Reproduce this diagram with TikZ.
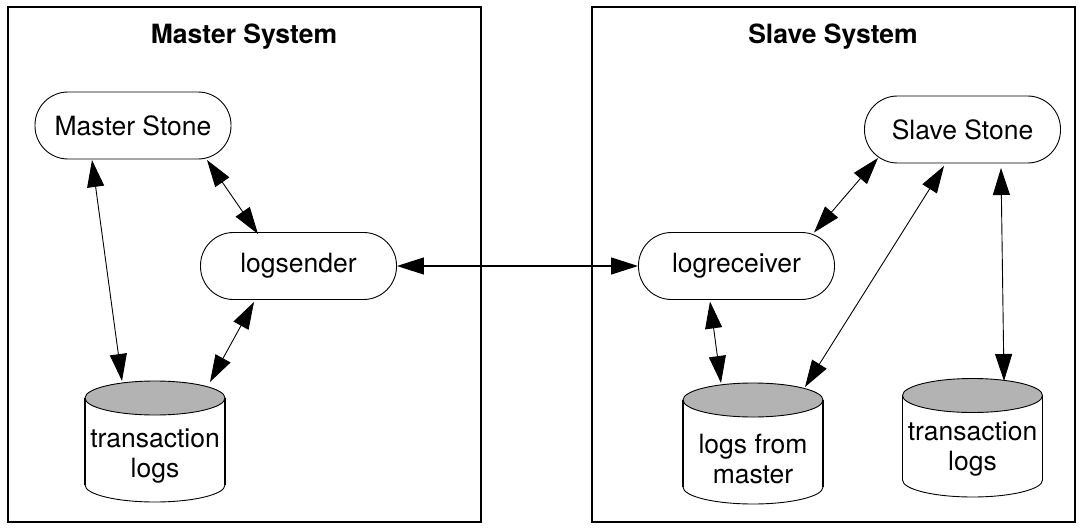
\documentclass[tikz,border=0pt]{standalone}
\usepackage{fontspec}
\setmainfont{TeX Gyre Heros}
\usetikzlibrary{arrows.meta,calc}
\definecolor{cylgray}{HTML}{B3B3B3}
\tikzset{
  sysbox/.style={draw, line width=1.6pt},
  systitle/.style={font=\fontsize{26.5}{30}\selectfont\bfseries},
  proc/.style={draw, line width=0.9pt, rounded corners=33pt, minimum width=196pt, minimum height=67pt, inner sep=0pt, font=\fontsize{26.5}{30}\selectfont},
  dbtext/.style={align=center, inner sep=0pt, font=\fontsize{26.5}{29.5}\selectfont},
  link/.style={line width=0.9pt, {Triangle[length=27pt,width=17pt]}-{Triangle[length=27pt,width=17pt]}},
}
\newcommand{\mydb}[4]{% cx, ellipse centre y, side bottom y, unused
  \filldraw[fill=cylgray, line width=0.9pt] (#1,#2) ellipse [x radius=70pt, y radius=17pt];
  \draw[line width=1.1pt] ($(#1,#2)+(-70,0)$) -- ($(#1,#3)+(-70,0)$);
  \draw[line width=1.1pt] ($(#1,#2)+(70,0)$) -- ($(#1,#3)+(70,0)$);
  \draw[line width=0.9pt] ($(#1,#3)+(-70,0)$) arc[start angle=180, end angle=360, x radius=70pt, y radius=17pt];
}
\begin{document}
\begin{tikzpicture}[x=1pt,y=-1pt]
\useasboundingbox (0,0) rectangle (1083,527);
% system frames
\draw[sysbox] (8,7) rectangle (481,522);
\draw[sysbox] (592,7) rectangle (1075,522);
\node[systitle] (mtitle) at (244,37) {Master System};
\node[systitle] (stitle) at (833,37) {Slave System};
% processes
\node[proc] (ms) at (133,125.5) {Master Stone};
\node[proc] (ls) at (298.5,266) {logsender};
\node[proc] (lr) at (736.5,266) {logreceiver};
\node[proc] (ss) at (962.5,129.5) {Slave Stone};
% databases
\mydb{155}{398}{485}{}
\mydb{753}{400}{487}{}
\mydb{972.5}{395.5}{480}{}
\node[dbtext] (tl) at (155,456) {transaction\\logs};
\node[dbtext] (lfm) at (753,459) {logs from\\master};
\node[dbtext] (tr) at (972.5,449) {transaction\\logs};
% connectors
\draw[link] ($(ms)+(-41,34.5)$) -- ($(tl)+(-33,-75)$);
\draw[link] ($(ms)+(74,34.5)$) -- ($(ls)+(-40.5,-32)$);
\draw[link] ($(ls)+(-44.5,36)$) -- ($(tl)+(55,-74)$);
\draw[link, line width=1.4pt] (ls.east) -- (lr.west);
\draw[link] ($(ss)+(-84.5,28.5)$) -- ($(lr)+(77.5,-33.5)$);
\draw[link] ($(lr)+(-26.5,35.5)$) -- ($(lfm)+(-32,-76)$);
\draw[link] ($(ss)+(-18.5,36.5)$) -- ($(lfm)+(52,-72)$);
\draw[link] ($(ss)+(38.5,38.5)$) -- ($(tr)+(31.5,-68)$);
\end{tikzpicture}
\end{document}
